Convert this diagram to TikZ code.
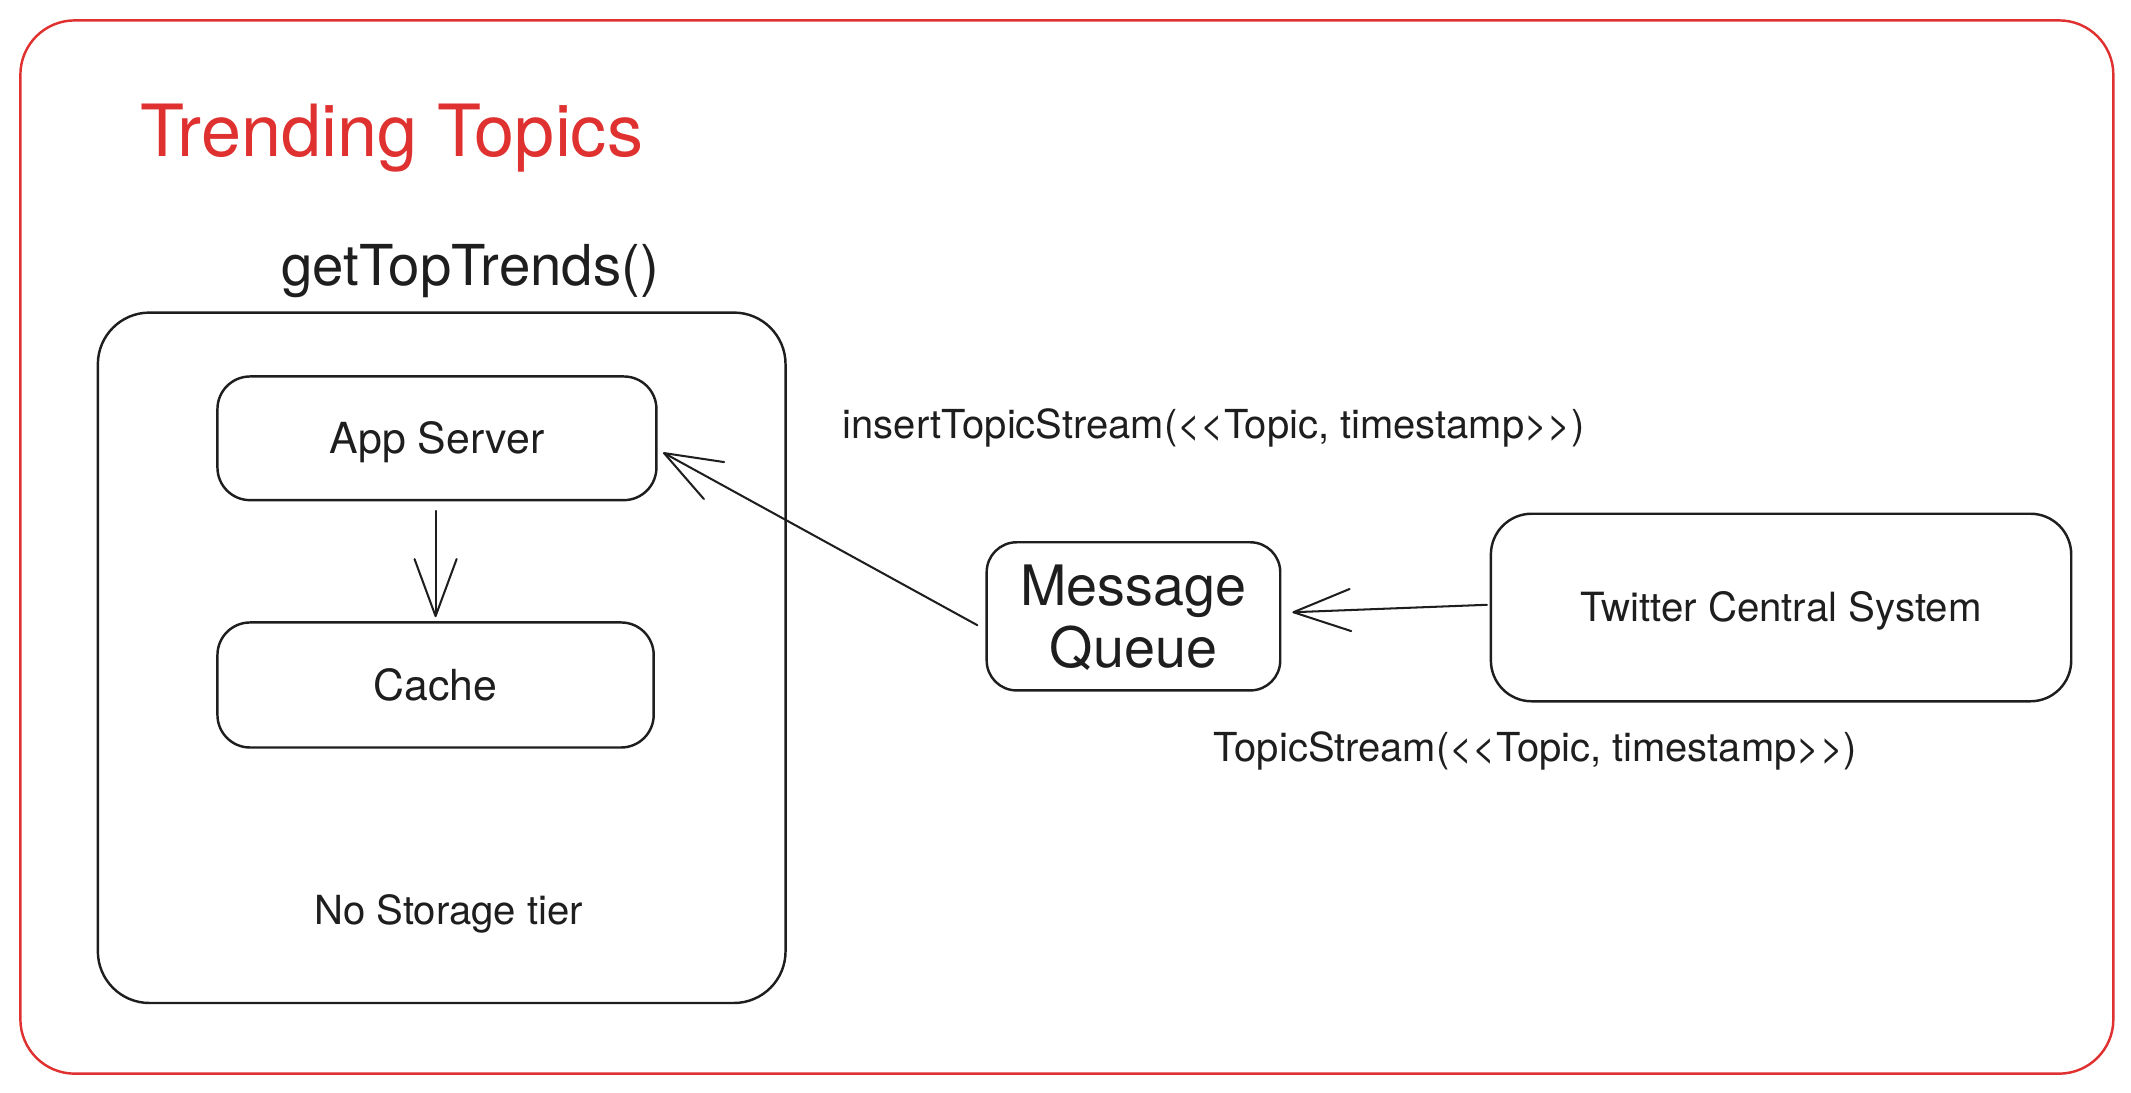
\documentclass[tikz,border=0pt]{standalone}
\usepackage{fontspec}
\setmainfont{TeX Gyre Heros}
\usetikzlibrary{arrows.meta}
\definecolor{exred}{HTML}{E03131}
\definecolor{ink}{HTML}{1E1E1E}
\begin{document}
\begin{tikzpicture}[x=1pt,y=-1pt,
  box/.style={draw=ink, line width=1.8pt, rounded corners=#1, inner sep=0pt,
    text=ink, font=\fontsize{31.5}{36}\selectfont, text height=22.6pt, text depth=0pt, align=center},
  box/.default=24pt,
  lbl/.style={inner sep=0pt, text=ink, font=\fontsize{29.4}{34}\selectfont},
  conn/.style={draw=ink, line width=1.5pt, line cap=round,
    -{Straight Barb[length=42pt,width=31pt,line cap=round,line join=round]}}]
\useasboundingbox (0,0) rectangle (1568,804);
% outer frame
\node[draw=exred, line width=1.8pt, rounded corners=40pt, minimum width=1540pt, minimum height=775pt, inner sep=0pt] (frame) at (785,402.5) {};
\node[inner sep=0pt, anchor=base west, text=exred, font=\fontsize{53}{60}\selectfont] (title) at (103,115) {Trending Topics};
% service group
\node[inner sep=0pt, anchor=base west, text=ink, font=\fontsize{41.5}{46}\selectfont] (api) at (207,210) {getTopTrends()};
\node[box=38pt, minimum width=506pt, minimum height=508pt] (group) at (325,484) {};
\node[box=24pt, minimum width=323pt, minimum height=91pt] (app) at (321.5,322.5) {App Server};
\node[box=24pt, minimum width=321pt, minimum height=92pt] (cache) at (320.5,504) {Cache};
\node[lbl, anchor=base, font=\fontsize{29.5}{34}\selectfont] (nostore) at (330,680) {No Storage tier};
% message queue and source
\node[box=22pt, minimum width=216pt, minimum height=109pt, font=\fontsize{41}{46}\selectfont, text height=75.4pt] (mq) at (834,453.5) {Message\\Queue};
\node[box=30pt, minimum width=427pt, minimum height=138pt, font=\fontsize{29.6}{34}\selectfont, text height=21.2pt] (tcs) at (1310.5,447) {Twitter Central System};
% labels
\node[lbl, anchor=base west] (ins) at (620,323) {insertTopicStream(<\kern0pt<Topic, timestamp>\kern0pt>)};
\node[lbl, anchor=base west] (ts) at (893,560) {TopicStream(<\kern0pt<Topic, timestamp>\kern0pt>)};
% connectors
\draw[conn] ([xshift=-6pt,yshift=-6.5pt]mq.west) -- ([xshift=4pt,yshift=-10.5pt]app.east);
\draw[conn] ([xshift=-1pt,yshift=-7pt]app.south) -- ([yshift=3pt]cache.north);
\draw[conn] ([xshift=-2pt,yshift=2pt]tcs.west) -- ([xshift=8pt,yshift=3pt]mq.east);
\end{tikzpicture}
\end{document}
